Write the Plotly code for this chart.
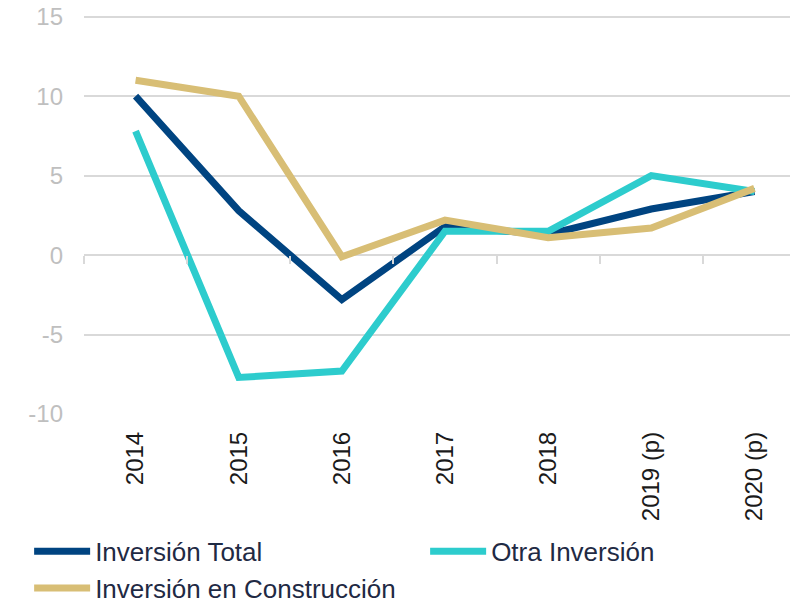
import plotly.graph_objects as go

categories = ["2014", "2015", "2016", "2017", "2018", "2019 (p)", "2020 (p)"]
inversion_total = [10.0, 2.8, -2.8, 1.8, 1.3, 2.9, 4.0]
otra_inversion = [7.8, -7.7, -7.3, 1.5, 1.5, 5.0, 4.0]
inversion_construccion = [11.0, 10.0, -0.1, 2.2, 1.1, 1.7, 4.2]
y_ticks = [-10, -5, 0, 5, 10, 15]
y_tick_labels = ["-10", "-5", "0", "5", "10", "15"]

series = [
    ("Inversión Total", inversion_total, "#004481"),
    ("Otra Inversión", otra_inversion, "#2dcccd"),
    ("Inversión en Construcción", inversion_construccion, "#d8be75"),
]

fig = go.Figure()
for name, vals, color in series:
    fig.add_trace(go.Scatter(x=categories, y=vals, name=name, mode="lines",
                             line=dict(color=color, width=7)))

# invisible trace to carry the boundary ticks axis on the zero line
fig.add_trace(go.Scatter(x=categories, y=[0] * len(categories), xaxis="x2",
                         mode="lines", line=dict(width=0), showlegend=False,
                         hoverinfo="skip"))

ymin, ymax = -10, 15.3
fig.update_layout(
    width=798, height=599,
    margin=dict(l=76, r=0, t=4, b=193, autoexpand=False),
    plot_bgcolor="white", paper_bgcolor="white",
    font=dict(family="Liberation Sans, Arial", color="#bfbfbf", size=24),
    xaxis=dict(type="category", categoryarray=categories, range=[-0.5, 6.5],
               showgrid=False, showline=False, ticks="", tickangle=-90,
               ticklabelstandoff=12, zeroline=False,
               tickfont=dict(color="#1a1a1a", size=24)),
    xaxis2=dict(type="category", categoryarray=categories, range=[-0.5, 6.5],
                overlaying="x", anchor="free", position=(0 - ymin) / (ymax - ymin),
                side="bottom", tickson="boundaries", ticks="outside", ticklen=8,
                tickcolor="#d9d9d9", tickwidth=2, showticklabels=False,
                showgrid=False, showline=False, zeroline=False),
    yaxis=dict(range=[ymin, ymax], tickvals=y_ticks, ticktext=y_tick_labels,
               showgrid=True, gridcolor="#d9d9d9", gridwidth=2, zeroline=True,
               zerolinecolor="#d9d9d9", zerolinewidth=2, showline=False,
               ticks="", ticklabelstandoff=20, ticklabeloverflow="allow",
               tickfont=dict(color="#bfbfbf", size=24)),
    legend=dict(orientation="h", x=-0.076, xanchor="left", y=-0.283, yanchor="top",
                entrywidth=325, font=dict(family="Liberation Sans, Arial",
                                          color="#1f2a44", size=26),
                itemwidth=56, tracegroupgap=0),
    showlegend=True,
)

fig.write_html("out.html")
